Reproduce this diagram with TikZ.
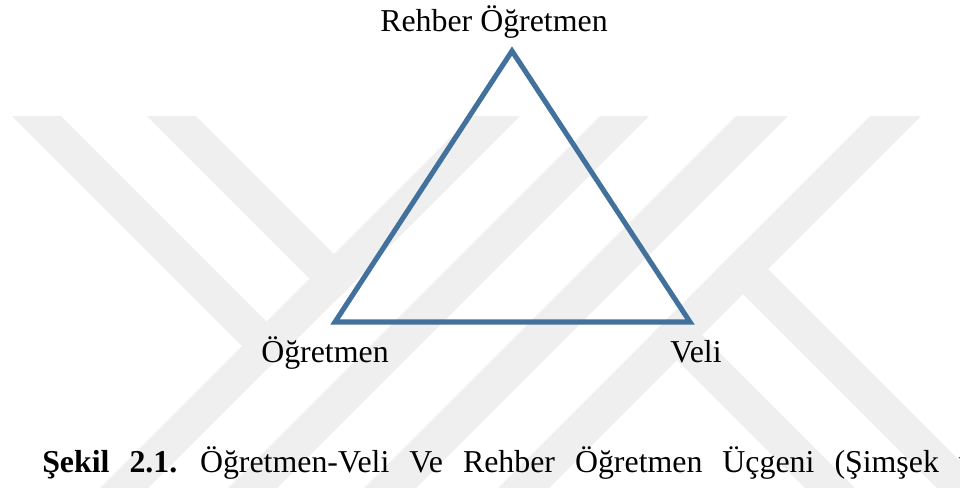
\documentclass[tikz,border=0pt]{standalone}
\usepackage{fontspec}
\setmainfont{Liberation Serif}
\definecolor{tri}{HTML}{41719C}
\definecolor{wm}{RGB}{239,239,239}
\tikzset{
  band/.style={fill=wm, draw=none},
  lbl/.style={font=\fontsize{23.9}{28}\selectfont, inner sep=0pt, anchor=base west},
  edge/.style={draw=tri, line width=3.8pt, line join=miter}
}
\begin{document}
\begin{tikzpicture}[x=0.75pt, y=-0.75pt]
\useasboundingbox (0,0) rectangle (960,487);
\clip (0,0) rectangle (960,487);
% watermark
\fill[band] (472,116) -- (520,116) -- (36,600) -- (-12,600) -- cycle;
\fill[band] (600,116) -- (649,116) -- (165,600) -- (116,600) -- cycle;
\fill[band] (736,116) -- (788,116) -- (304,600) -- (252,600) -- cycle;
\fill[band] (870,116) -- (921,116) -- (437,600) -- (386,600) -- cycle;
\fill[band] (12,116) -- (61,116) -- (290.5,345.5) -- (266,370) -- cycle;
\fill[band] (147,116) -- (196,116) -- (358,278) -- (333.5,302.5) -- cycle;
\fill[band] (742.5,243.5) -- (1199,700) -- (1149,700) -- (717.5,268.5) -- cycle;
\fill[band] (676.5,309.5) -- (1067,700) -- (1017,700) -- (651.5,334.5) -- cycle;
% triangle
\coordinate (A) at (512,51);
\coordinate (B) at (335,322);
\coordinate (C) at (690,322);
\draw[edge] (A) -- (B) -- (C) -- cycle;
% labels
\node[lbl] (top) at (380,31) {Rehber Öğretmen};
\node[lbl] (left) at (261,362) {Öğretmen};
\node[lbl] (right) at (670,362) {Veli};
\node[lbl] (cap) at (42,472) {\spaceskip=15pt\textbf{Şekil 2.1.} Öğretmen-Veli Ve Rehber Öğretmen Üçgeni (Şimşek ve};
\end{tikzpicture}
\end{document}
